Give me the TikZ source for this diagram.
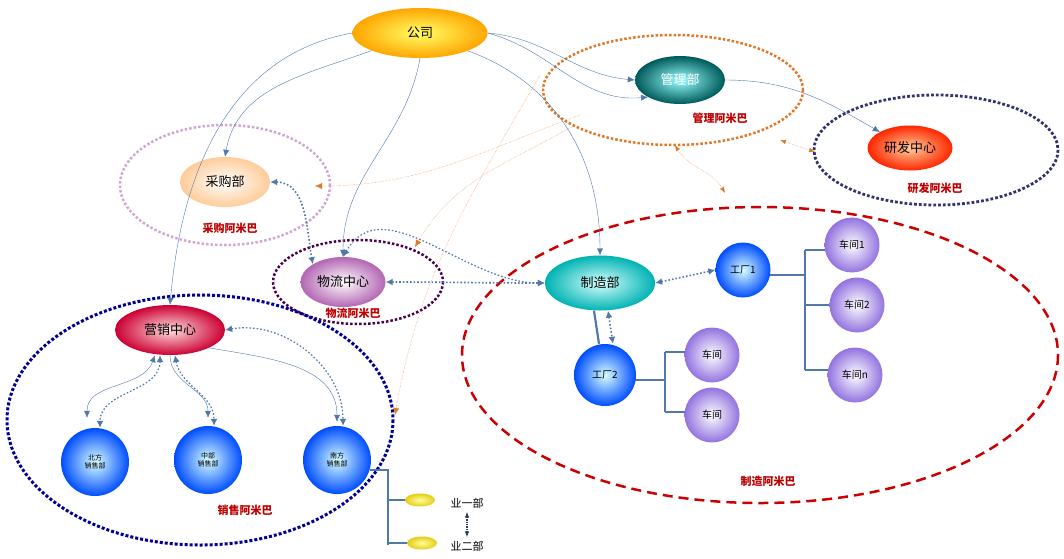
\documentclass[tikz,border=0pt]{standalone}
\usepackage{fontspec}
\setmainfont{Noto Sans CJK SC}
\usetikzlibrary{shapes.geometric,arrows.meta}
\definecolor{lnk}{RGB}{80,120,170}
\definecolor{org}{RGB}{225,120,40}
\tikzset{
 blob/.style={ellipse,minimum width=#1,inner sep=0pt,font=\fontsize{13}{14}\selectfont},
 ball/.style={circle,minimum size=#1,inner sep=0pt,font=\fontsize{10}{11}\selectfont},
 bball/.style={inner color=cyan!15!white,outer color=blue!70!cyan},
 vball/.style={inner color=white,outer color=violet!45!blue!55!white},
 lbl/.style={text=red!75!black,font=\bfseries\fontsize{11}{12}\selectfont},
 ln/.style={lnk,thin,-{Latex[length=7pt,width=6pt]}},
 dl/.style={lnk,line width=1.6pt,dotted,{Latex[length=7pt,width=7pt]}-{Latex[length=7pt,width=7pt]}},
 ol/.style={org,thin,densely dotted,-{Latex[length=7pt,width=6pt]}},
 br/.style={lnk,line width=2.2pt},
}
\begin{document}
\begin{tikzpicture}[x=1pt,y=-1pt]
\useasboundingbox (0,0) rectangle (1064,558);
% amoeba ellipses
\draw[org,line width=2.5pt,dotted] (673,90) ellipse (130 and 55);
\draw[blue!30!black!80,line width=2.8pt,dotted] (936,150) ellipse (122 and 55);
\draw[violet!35,line width=2.5pt,dotted] (225,185) ellipse (105 and 60);
\draw[violet!60!black,line width=2.5pt,dotted] (358,282) ellipse (85 and 42);
\draw[blue!60!black,line width=3pt,dotted] (200,420) ellipse (193 and 125);
\draw[red!80!black,line width=2.5pt,dash pattern=on 10pt off 6pt] (760,355) ellipse (298 and 148);
% nodes
\node[blob=135pt,minimum height=50pt,inner color=yellow!60!white,outer color=orange!70!yellow] (gs) at (420,33) {公司};
\node[blob=90pt,minimum height=48pt,inner color=cyan!40!white,outer color=teal!70!black,text=white] (gl) at (680,80) {管理部};
\node[blob=85pt,minimum height=45pt,inner color=orange!40!white,outer color=red!70!orange] (yf) at (910,148) {研发中心};
\node[blob=90pt,minimum height=50pt,inner color=white,outer color=orange!40] (cg) at (225,182) {采购部};
\node[blob=85pt,minimum height=50pt,inner color=white,outer color=violet!60] (wl) at (343,282) {物流中心};
\node[blob=110pt,minimum height=50pt,inner color=pink!50!white,outer color=purple!80!red] (yx) at (170,330) {营销中心};
\node[blob=110pt,minimum height=55pt,inner color=cyan!15!white,outer color=teal!60!cyan] (zz) at (600,283) {制造部};
\node[lbl] at (720,118) {管理阿米巴};
\node[lbl] at (935,188) {研发阿米巴};
\node[lbl] at (230,228) {采购阿米巴};
\node[lbl] at (353,313) {物流阿米巴};
\node[lbl] at (245,510) {销售阿米巴};
\node[lbl] at (768,481) {制造阿米巴};
% brackets (under nodes)
\draw[br] (370,470) -- (388,470) -- (388,545);
\draw[br] (388,500) -- (410,500); \draw[br] (388,543) -- (410,543);
\draw[br] (630,380) -- (665,380); \draw[br] (665,352) -- (665,412);
\draw[br] (665,352) -- (690,352); \draw[br] (665,412) -- (690,412);
\draw[br] (765,275) -- (805,275); \draw[br] (805,250) -- (805,370);
\draw[br] (805,250) -- (830,250); \draw[br] (805,305) -- (835,305); \draw[br] (805,370) -- (833,370);
\node[ball=68pt,bball,align=center,font=\fontsize{7}{8}\selectfont] (bf) at (95,462) {北方\\销售部};
\node[ball=68pt,bball,align=center,font=\fontsize{7}{8}\selectfont] (zb) at (208,460) {中部\\销售部};
\node[ball=68pt,bball,align=center,font=\fontsize{7}{8}\selectfont] (nf) at (337,460) {南方\\销售部};
\node[ball=55pt,bball] (g1) at (743,270) {工厂1};
\node[ball=62pt,bball] (g2) at (605,375) {工厂2};
\node[ball=55pt,vball] (c1) at (712,355) {车间};
\node[ball=55pt,vball] (c2) at (712,415) {车间};
\node[ball=55pt,vball] (k1) at (852,245) {车间1};
\node[ball=55pt,vball] (k2) at (857,305) {车间2};
\node[ball=55pt,vball] (kn) at (855,375) {车间n};
\node[ellipse,minimum width=30pt,minimum height=13pt,inner sep=0pt,inner color=yellow!40!white,outer color=yellow!60!brown] (y1) at (420,500) {};
\node[ellipse,minimum width=30pt,minimum height=13pt,inner sep=0pt,inner color=yellow!40!white,outer color=yellow!60!brown] (y2) at (422,543) {};
\node[font=\fontsize{11}{12}\selectfont] (t1) at (467,503) {业一部};
\node[font=\fontsize{11}{12}\selectfont] (t2) at (467,546) {业二部};
\draw[lnk!50!black,line width=1.3pt,densely dotted,{Latex[length=6pt]}-{Latex[length=6pt]}] (t1) -- (t2);
\draw[br] ([xshift=-6pt]zz.south) -- ([xshift=-6pt]g2.north);
% company links
\draw[ln] (gs) to[out=200,in=80] (cg.north);
\draw[ln] (gs.south) to[out=260,in=90] (wl.north);
\draw[ln] (gs.west) to[out=190,in=85] (yx.north);
\draw[ln] (gs.east) to[out=-5,in=175] (gl.west);
\draw[ln] (gs.east) to[out=-15,in=185] (gl.south west);
\draw[ln] (gs.south east) to[out=-20,in=90] (zz.north);
\draw[ln] (gl.east) to[out=0,in=150] (yf.north west);
% sales
\draw[ln,{Latex[length=7pt,width=6pt]}-{Latex[length=7pt,width=6pt]}] ([xshift=-15pt]yx.south) to[out=250,in=90] ([xshift=-8pt,yshift=10pt]bf.north);
\draw[ln] (yx.south) to[out=270,in=90] ([yshift=8pt]zb.north);
\draw[ln] (yx.south east) to[out=-10,in=90] ([yshift=4pt]nf.north);
\draw[dl,line width=1.2pt] ([xshift=-10pt]yx.south) to[out=270,in=90] ([xshift=5pt]bf.north);
\draw[dl,line width=1.2pt] ([xshift=5pt]yx.south) to[out=280,in=90] ([xshift=6pt]zb.north);
\draw[dl,line width=1.2pt] (yx.east) to[out=10,in=90] ([xshift=6pt]nf.north);
% blue dotted
\draw[dl] (cg.east) to[out=0,in=100] (wl.north west);
\draw[dl] (wl.east) to[out=0,in=180] (zz.west);
\draw[dl,line width=1.2pt] (wl.north) to[out=60,in=180] (zz.west);
\draw[dl] (zz.east) -- (g1.west);
\draw[dl] ([xshift=8pt]zz.south) -- ([xshift=8pt]g2.north);
% orange dotted
\draw[ol] (580,115) to[out=200,in=0] (315,186);
\draw[ol] (575,125) to[out=210,in=60] (415,247);
\draw[ol] (540,75) to[out=240,in=80] (395,415);
\draw[ol,{Latex[length=6pt]}-{Latex[length=6pt]}] (780,140) -- (815,152);
\draw[ol,{Latex[length=6pt]}-{Latex[length=6pt]}] (675,145) to[out=-60,in=120] (725,193);
\end{tikzpicture}
\end{document}
